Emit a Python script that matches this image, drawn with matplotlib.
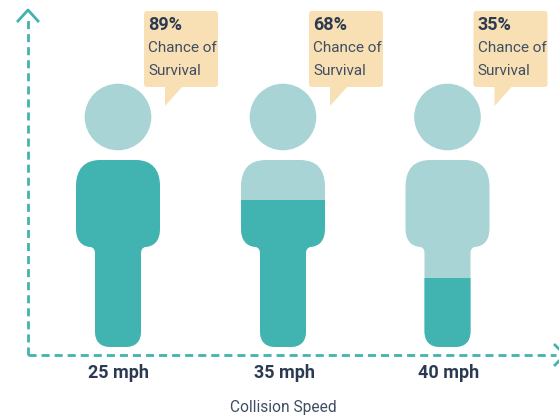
import matplotlib.pyplot as plt
from matplotlib.patches import Circle, PathPatch, Rectangle, FancyBboxPatch, Polygon
from matplotlib.path import Path

speeds = ['25 mph', '35 mph', '40 mph']
survival = ['89%', '68%', '35%']
# share of the figure's height that is filled (as drawn, not the same as the label)
fill_share = [1.0, 0.786, 0.369]

centers = [118, 283, 447.5]
teal = '#41B3B0'
light = '#A8D4D5'
tan = '#F8E0B4'
navy = '#2B3A50'
gray = '#3F4E63'

plt.rcParams['font.family'] = ['Roboto', 'DejaVu Sans']

fig = plt.figure(figsize=(5.59, 4.19), dpi=100)
ax = fig.add_axes([0, 0, 1, 1])
ax.set_xlim(0, 559)
ax.set_ylim(419, 0)
ax.axis('off')


def body_path(c):
    # half widths: shoulders 42, legs 23
    L, M, C = Path.LINETO, Path.MOVETO, Path.CURVE3
    pts = [
        (-17, 160), (17, 160), (42, 160), (42, 187), (42, 228),
        (42, 246), (27, 247), (23, 248), (23, 253), (23, 331),
        (23, 347), (7, 347), (-7, 347), (-23, 347), (-23, 331),
        (-23, 253), (-23, 248), (-27, 247), (-42, 246), (-42, 228),
        (-42, 187), (-42, 160), (-17, 160),
    ]
    codes = [M, L, C, C, L, C, C, C, C, L, C, C, L, C, C, L, C, C, C, C, L, C, C]
    return Path([(c + x, y) for x, y in pts], codes)


for c, speed, pct, share in zip(centers, speeds, survival, fill_share):
    ax.add_patch(Circle((c, 117), 33.3, fc=light, ec='none'))
    shape = PathPatch(body_path(c), fc=light, ec='none')
    ax.add_patch(shape)
    fill_top = 347 - share * (347 - 160)
    fill = Rectangle((c - 43, fill_top), 86, 347 - fill_top, fc=teal, ec='none')
    ax.add_patch(fill)
    fill.set_clip_path(shape)

    # callout
    left = c + 26
    ax.add_patch(FancyBboxPatch((left + 2, 13), 70, 72, boxstyle='round,pad=2,rounding_size=3',
                                fc=tan, ec='none'))
    ax.add_patch(Polygon([(left + 21, 86), (left + 21, 106), (left + 39, 86)], fc=tan, ec='none'))
    ax.text(left + 4, 25, pct, fontsize=13, fontweight='bold', color=navy, va='center', ha='left')
    ax.text(left + 4, 48.5, 'Chance of', fontsize=11, color=gray, va='center', ha='left')
    ax.text(left + 4, 71, 'Survival', fontsize=11, color=gray, va='center', ha='left')

    ax.text(c + 1, 373, speed, fontsize=13, fontweight='bold', color=navy, va='center', ha='center')

ax.text(283, 407, 'Collision Speed', fontsize=11.2, color=gray, va='center', ha='center')

# dashed axes
dash = (0, (2.9, 1.8))
ax.plot([28, 28], [355, 19], color=teal, lw=2, linestyle=dash)
ax.plot([28, 556], [355, 355], color=teal, lw=2, linestyle=dash)
ax.plot([18, 28, 38], [21, 10, 21], color=teal, lw=2)
ax.plot([555, 565, 555], [345, 355, 365], color=teal, lw=2)

plt.savefig('out.png', dpi=100)
